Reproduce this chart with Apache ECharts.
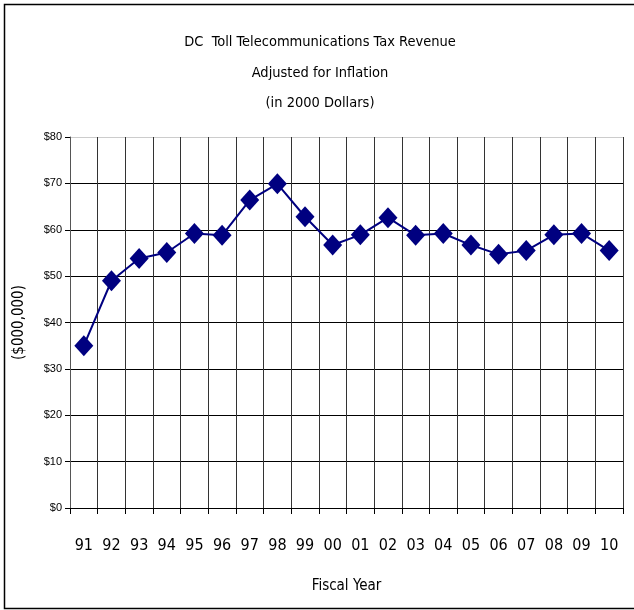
<!DOCTYPE html>
<html><head><meta charset="utf-8">
<script src="https://cdn.jsdelivr.net/npm/echarts@6/dist/echarts.min.js"></script>
<style>html,body{margin:0;padding:0;background:#fff}#c{width:634px;height:610px}</style>
</head><body><div id="c"></div>
<script>
const categories = ['91','92','93','94','95','96','97','98','99','00','01','02','03','04','05','06','07','08','09','10'];
const revenue = [35.0, 49.0, 53.8, 55.1, 59.2, 58.8, 66.4, 69.9, 62.8, 56.7, 58.9, 62.6, 58.8, 59.2, 56.7, 54.7, 55.5, 58.9, 59.2, 55.5];
const titleLines = ['DC  Toll Telecommunications Tax Revenue', 'Adjusted for Inflation', '(in 2000 Dollars)'];
const FONT = '"Liberation Sans Narrow", "DejaVu Sans Condensed", "Liberation Sans", sans-serif';
const chart = echarts.init(document.getElementById('c'));
chart.setOption({
  backgroundColor: '#fff',
  animation: false,
  graphic: [{type:'rect', shape:{x:4.5,y:4.5,width:640,height:604}, style:{fill:'none', stroke:'#000', lineWidth:1.5}, silent:true}],
  title: {
    text: titleLines.join('\n'), left: 315, top: 22, textAlign: 'center',
    textStyle: {fontFamily: FONT, fontSize: 14.5, fontWeight: 'normal', color: '#000', lineHeight: 30.5}
  },
  grid: {left: 70, right: 11, top: 137, bottom: 102},
  xAxis: {
    type: 'category', data: categories, boundaryGap: true,
    axisLine: {lineStyle: {color: '#000', width: 1}},
    axisTick: {show: true, length: 6, lineStyle: {color: '#000'}},
    axisLabel: {fontFamily: FONT, fontSize: 16, color: '#000', margin: 30},
    splitLine: {show: true, lineStyle: {color: '#333', width: 1}},
    name: 'Fiscal Year', nameLocation: 'middle', nameGap: 71,
    nameTextStyle: {fontFamily: FONT, fontSize: 15, color: '#000'}
  },
  yAxis: {
    type: 'value', min: 0, max: 80, interval: 10,
    axisLine: {show: true, lineStyle: {color: '#555'}},
    axisTick: {show: true, length: 5, lineStyle: {color: '#000'}},
    axisLabel: {fontFamily: '"Liberation Sans", sans-serif', fontSize: 11, color: '#000', margin: 8, formatter: v => '$' + v},
    splitLine: {show: true, lineStyle: {color: ['#000','#000','#000','#000','#000','#000','#000','#000','#ccc'], width: 1}},
    name: '($000,000)', nameLocation: 'middle', nameGap: 43, nameRotate: 90,
    nameTextStyle: {fontFamily: FONT, fontSize: 15, color: '#000'}
  },
  series: [{
    type: 'line', data: revenue,
    symbol: 'diamond', symbolSize: [19, 21],
    lineStyle: {color: '#000080', width: 2},
    itemStyle: {color: '#000080'}
  }]
});
</script></body></html>
